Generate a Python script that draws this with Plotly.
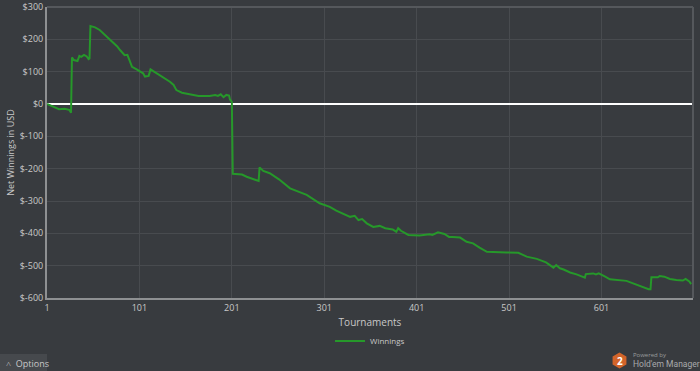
import plotly.graph_objects as go

# ---- data ----
tournaments = [1, 5, 10, 14, 20, 25, 27, 28, 30, 34, 36, 38, 41, 44, 46, 47, 48, 53, 58, 62,
               66, 70, 73, 77, 80, 85, 88, 89, 93, 98, 105, 107, 111, 113, 117, 120, 127, 134, 138, 141,
               147, 156, 165, 177, 183, 186, 189, 192, 195, 198, 199, 201, 202, 212, 217, 227, 230, 231, 235, 242,
               252, 264, 271, 282, 296, 307, 314, 321, 329, 334, 338, 342, 347, 354, 361, 367, 375, 379, 381, 384,
               392, 404, 415, 418, 424, 431, 436, 440, 448, 455, 462, 469, 477, 498, 511, 520, 531, 541, 549, 552,
               556, 560, 567, 574, 583, 584, 592, 595, 598, 605, 610, 628, 639, 652, 654, 655, 662, 664, 669, 675,
               682, 689, 692, 696, 698]
winnings = [0, -5, -12, -16, -15, -18, -27, 144, 136, 133, 149, 146, 152, 147, 139, 141, 241, 237, 229, 218,
            208, 198, 190, 178, 167, 151, 152, 144, 115, 107, 95, 85, 87, 107, 100, 93, 83, 69, 59, 43,
            35, 31, 25, 25, 28, 25, 30, 21, 28, 26, 14, 7, -216, -218, -225, -235, -238, -196, -207, -214,
            -233, -261, -268, -281, -307, -318, -330, -338, -349, -346, -359, -356, -369, -380, -377, -384, -388, -395, -384, -392,
            -405, -407, -403, -405, -397, -402, -411, -411, -413, -426, -431, -444, -457, -459, -460, -472, -479, -490, -506, -498,
            -508, -512, -521, -527, -537, -526, -524, -527, -524, -534, -542, -547, -560, -573, -573, -536, -536, -532, -534, -541,
            -544, -546, -541, -549, -557]

x_ticks = [1, 101, 201, 301, 401, 501, 601]
y_ticks = [300, 200, 100, 0, -100, -200, -300, -400, -500, -600]
y_tick_labels = ["$300", "$200", "$100", "$0", "$-100", "$-200", "$-300", "$-400", "$-500", "$-600"]

BG = "#383b3f"
GRID = "#484b4f"
TXT = "#c8c8c8"
FONT = "Open Sans"

fig = go.Figure()
fig.add_trace(go.Scatter(
    x=tournaments, y=winnings, mode="lines", name="Winnings",
    line=dict(color="#26982a", width=2),
))

fig.update_layout(
    width=700, height=371,
    margin=dict(l=47, r=7, t=7, b=73, autoexpand=False),
    paper_bgcolor=BG, plot_bgcolor=BG,
    font=dict(family=FONT, color=TXT, size=10),
    showlegend=True,
    legend=dict(orientation="h", x=0.5, xanchor="center", y=-0.148, yanchor="middle",
                itemwidth=30,
                font=dict(size=8, color=TXT), bgcolor="rgba(0,0,0,0)"),
    xaxis=dict(range=[1, 700], tickmode="array", tickvals=x_ticks, automargin=False,
               showgrid=True, gridcolor=GRID, gridwidth=1,
               showline=True, linecolor="#8e9092", linewidth=2,
               ticks="", zeroline=False,
               tickfont=dict(size=9, color=TXT),
               title=dict(text="Tournaments", font=dict(size=10, color=TXT), standoff=6)),
    yaxis=dict(range=[-600, 300], tickmode="array", tickvals=y_ticks, ticktext=y_tick_labels,
               automargin=False,
               showgrid=True, gridcolor=GRID, gridwidth=1,
               showline=True, linecolor="#8e9092", linewidth=2,
               ticks="", zeroline=True, zerolinecolor="#ffffff", zerolinewidth=2,
               tickfont=dict(size=9, color=TXT),
               title=dict(text="Net Winnings in USD", font=dict(size=9, color=TXT), standoff=4)),
)

# dim top/right border
fig.add_shape(type="line", xref="paper", yref="paper", x0=0, x1=1, y0=1, y1=1,
              line=dict(color="#55585c", width=2))
fig.add_shape(type="line", xref="paper", yref="paper", x0=1, x1=1, y0=0, y1=1,
              line=dict(color="#55585c", width=2))

# "Options" button bottom-left
pw, ph = 646.0, 291.0
def px_x(p):
    return (p - 47) / pw
def px_y(p):
    return (298 - p) / ph

fig.add_shape(type="rect", xref="paper", yref="paper",
              x0=px_x(0), x1=px_x(47), y0=px_y(371), y1=px_y(354),
              fillcolor="#46494d", line=dict(width=0), layer="below")
fig.add_annotation(xref="paper", yref="paper", x=px_x(4), y=px_y(363), xanchor="left", yanchor="middle",
                   text="˄  Options", showarrow=False, font=dict(size=9, color=TXT))

# Hold'em Manager logo bottom-right
cx, cy, r = 619.5, 360.5, 8
hexpath = "M {} {} L {} {} L {} {} L {} {} L {} {} L {} {} Z".format(
    px_x(cx), px_y(cy - r),
    px_x(cx + 0.866 * r), px_y(cy - r / 2),
    px_x(cx + 0.866 * r), px_y(cy + r / 2),
    px_x(cx), px_y(cy + r),
    px_x(cx - 0.866 * r), px_y(cy + r / 2),
    px_x(cx - 0.866 * r), px_y(cy - r / 2))
fig.add_shape(type="path", xref="paper", yref="paper", path=hexpath,
              fillcolor="#d2642a", line=dict(width=0))
fig.add_annotation(xref="paper", yref="paper", x=px_x(cx), y=px_y(cy), text="<b>2</b>",
                   xanchor="center", yanchor="middle",
                   showarrow=False, font=dict(size=10, color="#ffffff"))
fig.add_annotation(xref="paper", yref="paper", x=px_x(631), y=px_y(355), xanchor="left", yanchor="middle",
                   text="Powered by", showarrow=False, font=dict(size=6, color="#9a9c9e"))
fig.add_annotation(xref="paper", yref="paper", x=px_x(631), y=px_y(364), xanchor="left", yanchor="middle",
                   text="Hold'em Manager", showarrow=False,
                   font=dict(family="Roboto", size=8.5, color="#a8aaac"))

fig.write_html("out.html", config={"displayModeBar": False},
               post_script="document.body.style.margin='0';document.body.style.background='#383b3f';")
